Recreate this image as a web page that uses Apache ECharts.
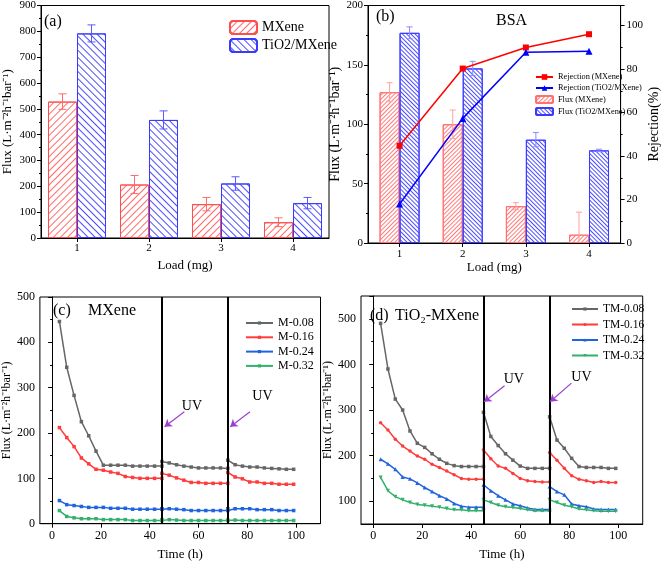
<!DOCTYPE html>
<html><head><meta charset="utf-8">
<script src="https://cdn.jsdelivr.net/npm/echarts@6/dist/echarts.min.js"></script>
<style>html,body{margin:0;padding:0;background:#fff}#c{width:662px;height:562px}</style>
</head><body><div id="c"></div>
<script>
// ---------- data ----------
const loads = ['1', '2', '3', '4'];
const fluxA_MX = [528, 207, 131, 61];
const errA_MX = [30, 35, 26, 17];
const fluxA_TM = [792, 457, 211, 135];
const errA_TM = [33, 35, 26, 22];

const fluxB_MX = [127, 100, 31, 7];
const errB_MX = [8, 12, 3, 19];
const fluxB_TM = [177, 147, 87, 78];
const errB_TM = [5, 6, 6, 1];
const rejB_MX = [44.7, 80.2, 89.9, 96.0];
const rejB_TM = [17.9, 57.3, 87.7, 88.2];

const timeH = [3, 6, 9, 12, 15, 18, 21, 24, 27, 30, 33, 36, 39, 42, 45,
  45, 48, 51, 54, 57, 60, 63, 66, 69, 72,
  72, 75, 78, 81, 84, 87, 90, 93, 96, 99];
const uvTimes = [45, 72];

const M008 = [446, 345, 283, 225, 194, 160, 129, 129, 129, 129, 127, 127, 127, 127, 127,
  137, 134, 130, 127, 125, 123, 123, 123, 123, 122,
  140, 130, 127, 125, 125, 123, 122, 121, 120, 120];
const M016 = [212, 190, 170, 145, 132, 120, 118, 114, 111, 104, 102, 100, 100, 100, 100,
  111, 107, 101, 96, 91, 91, 89, 89, 89, 89,
  113, 103, 99, 92, 92, 89, 89, 87, 87, 87];
const M024 = [51, 42, 40, 38, 36, 36, 36, 34, 34, 34, 32, 32, 32, 32, 32,
  33, 33, 32, 31, 29, 29, 29, 29, 29, 29,
  33, 33, 33, 33, 31, 31, 31, 29, 29, 29];
const M032 = [29, 16, 13, 11, 11, 11, 9, 9, 9, 9, 7, 7, 7, 7, 7,
  9, 9, 8, 7, 7, 7, 7, 7, 7, 7,
  8, 8, 7, 7, 7, 7, 7, 7, 7, 7];

const TM008 = [490, 390, 324, 300, 254, 227, 218, 204, 192, 183, 178, 176, 176, 176, 176,
  295, 242, 222, 204, 190, 177, 172, 172, 172, 172,
  285, 234, 216, 194, 176, 174, 174, 174, 172, 172];
const TM016 = [272, 256, 236, 221, 210, 199, 192, 181, 174, 166, 158, 150, 148, 148, 148,
  213, 193, 177, 172, 161, 150, 145, 143, 142, 142,
  207, 190, 172, 156, 148, 145, 141, 143, 141, 141];
const TM024 = [192, 182, 170, 153, 149, 140, 130, 121, 112, 105, 95, 89, 87, 87, 87,
  136, 123, 112, 103, 94, 90, 85, 82, 82, 82,
  132, 121, 114, 94, 90, 88, 83, 82, 82, 82];
const TM032 = [152, 123, 110, 103, 97, 93, 91, 89, 87, 84, 81, 81, 79, 79, 79,
  103, 97, 91, 88, 86, 84, 81, 79, 79, 79,
  103, 97, 91, 88, 83, 81, 79, 78, 78, 78];

// UV annotation anchor points (data coords): [tailX, tailY, headX, headY, textX, textY]
const uvC = [[54.2, 247, 46.1, 214, 57.3, 258], [81.1, 247, 73.0, 214, 86.2, 282]];
const uvD = [[53.6, 353, 45.3, 318, 57.4, 368], [80.9, 359, 72.2, 318, 85, 371]];

// ---------- helpers ----------
const FONT = 'Liberation Serif';
const pair = (ys) => ys.map((y, i) => [timeH[i], y]);
function hatch(color, rot, gap) {
  return { symbol: 'rect', symbolSize: 1, color: color, dashArrayX: [1, 0], dashArrayY: [1, gap], rotation: rot };
}
function errSeries(x, y, vals, errs, offset, color, cap, z) {
  return {
    type: 'custom', xAxisIndex: x, yAxisIndex: y, z: z, clip: true, silent: true,
    data: vals.map((v, i) => [i, v, errs[i]]),
    renderItem: function (params, api) {
      const i = api.value(0), v = api.value(1), e = api.value(2);
      const top = api.coord([i, v + e]);
      const bot = api.coord([i, v - e]);
      const cx = top[0] + offset;
      const st = { stroke: color, lineWidth: 1 };
      return { type: 'group', children: [
        { type: 'line', shape: { x1: cx, y1: top[1], x2: cx, y2: bot[1] }, style: st },
        { type: 'line', shape: { x1: cx - cap, y1: top[1], x2: cx + cap, y2: top[1] }, style: st },
        { type: 'line', shape: { x1: cx - cap, y1: bot[1], x2: cx + cap, y2: bot[1] }, style: st }
      ] };
    }
  };
}
const axisCommon = {
  axisLine: { show: true, lineStyle: { color: '#000', width: 1 } },
  axisTick: { show: true, length: 4, lineStyle: { color: '#000' } },
  splitLine: { show: false },
  nameLocation: 'middle'
};
function lab(size) { return { color: '#000', fontFamily: FONT, fontSize: size }; }

const cRed = '#ff3b3b', cGray = '#666666', cBlue = '#1f63e0', cGreen = '#33b06c';

function uvMark(list) {
  return {
    silent: true, symbol: ['none', 'arrow'], symbolSize: 7,
    lineStyle: { color: '#9b3fd0', width: 1.2, type: 'solid' },
    label: { show: false },
    data: list.map(u => [{ coord: [u[0], u[1]] }, { coord: [u[2], u[3]] }])
  };
}
function uvText(list) {
  return {
    silent: true, symbol: 'circle', symbolSize: 0,
    label: { show: true, position: 'inside', formatter: 'UV', color: '#000', fontFamily: FONT, fontSize: 14 },
    data: list.map(u => ({ coord: [u[4], u[5]], value: 'UV' }))
  };
}
const vLines = {
  silent: true, symbol: ['none', 'none'], label: { show: false },
  lineStyle: { color: '#000', width: 2, type: 'solid' },
  data: uvTimes.map(t => ({ xAxis: t }))
};

const option = {
  animation: false,
  backgroundColor: '#fff',
  textStyle: { fontFamily: FONT },
  grid: [
    { left: 40, top: 5, width: 289, height: 233, show: true, borderColor: '#000', borderWidth: 1 },
    { left: 368, top: 5, width: 262, height: 238, show: true, borderColor: '#000', borderWidth: 1 },
    { left: 38, top: 297, width: 282.5, height: 226.7, show: true, borderColor: '#000', borderWidth: 1 },
    { left: 361, top: 296, width: 281.7, height: 228, show: true, borderColor: '#000', borderWidth: 1 }
  ],
  xAxis: [
    Object.assign({}, axisCommon, { gridIndex: 0, type: 'category', data: loads,
      axisTick: { show: true, alignWithLabel: true, length: 4, lineStyle: { color: '#000' } },
      axisLabel: Object.assign(lab(11), { margin: 5 }),
      name: 'Load (mg)', nameGap: 21, nameTextStyle: lab(13) }),
    Object.assign({}, axisCommon, { gridIndex: 1, type: 'category', data: loads,
      axisTick: { show: true, alignWithLabel: true, length: 4, lineStyle: { color: '#000' } },
      axisLabel: Object.assign(lab(11), { margin: 6 }),
      name: 'Load (mg)', nameGap: 18, nameTextStyle: lab(13) }),
    Object.assign({}, axisCommon, { gridIndex: 2, type: 'value', min: -5, max: 110,
      axisLabel: Object.assign(lab(12), { margin: 6, showMinLabel: false, showMaxLabel: false }),
      name: 'Time (h)', nameGap: 24, nameTextStyle: lab(13) }),
    Object.assign({}, axisCommon, { gridIndex: 3, type: 'value', min: -5, max: 110,
      axisLabel: Object.assign(lab(12), { margin: 6, showMinLabel: false, showMaxLabel: false }),
      name: 'Time (h)', nameGap: 24, nameTextStyle: lab(13) })
  ],
  yAxis: [
    Object.assign({}, axisCommon, { gridIndex: 0, type: 'value', min: 0, max: 900, interval: 100,
      minorTick: { show: true, splitNumber: 2, length: 2, lineStyle: { color: '#000' } },
      axisLabel: Object.assign(lab(11), { margin: 5 }),
      name: 'Flux (L·m⁻²h⁻¹bar⁻¹)', nameGap: 27, nameTextStyle: lab(13) }),
    Object.assign({}, axisCommon, { gridIndex: 1, type: 'value', min: 0, max: 200, interval: 50,
      minorTick: { show: true, splitNumber: 2, length: 2, lineStyle: { color: '#000' } },
      axisLabel: Object.assign(lab(11), { margin: 5 }),
      name: 'Flux (L·m⁻²h⁻¹bar⁻¹)', nameGap: 24, nameTextStyle: lab(14) }),
    Object.assign({}, axisCommon, { gridIndex: 1, type: 'value', position: 'right', min: 0, max: 109.2, interval: 20,
      minorTick: { show: true, splitNumber: 2, length: 2, lineStyle: { color: '#000' } },
      axisLabel: Object.assign(lab(11), { margin: 6 , showMaxLabel: false }),
      name: 'Rejection(%)', nameGap: 25, nameTextStyle: lab(14) }),
    Object.assign({}, axisCommon, { gridIndex: 2, type: 'value', min: 0, max: 500,
      minorTick: { show: true, splitNumber: 2, length: 2, lineStyle: { color: '#000' } },
      axisLabel: Object.assign(lab(12), { margin: 5 }),
      name: 'Flux (L·m⁻²h⁻¹bar⁻¹)', nameGap: 25, nameTextStyle: lab(12) }),
    Object.assign({}, axisCommon, { gridIndex: 3, type: 'value', min: 50, max: 550,
      minorTick: { show: true, splitNumber: 2, length: 2, lineStyle: { color: '#000' } },
      axisLabel: Object.assign(lab(12), { margin: 5, showMinLabel: false, showMaxLabel: false }),
      name: 'Flux (L·m⁻²h⁻¹bar⁻¹)', nameGap: 25, nameTextStyle: lab(12) })
  ],
  legend: [
    { left: 224, top: 15, orient: 'vertical', itemWidth: 27, itemHeight: 13, itemGap: 3,
      textStyle: lab(14), data: ['MXene', 'TiO2/MXene'] },
    { left: 530, top: 68, orient: 'vertical', itemWidth: 17, itemHeight: 7, itemGap: 3,
      textStyle: lab(8.3), data: ['Rejection (MXene)', 'Rejection (TiO2/MXene)', 'Flux (MXene)', 'Flux (TiO2/MXene)'] },
    { left: 240, top: 312, orient: 'vertical', itemWidth: 27, itemHeight: 4, itemGap: 2.3,
      textStyle: lab(12), data: ['M-0.08', 'M-0.16', 'M-0.24', 'M-0.32'] },
    { left: 566, top: 298, orient: 'vertical', itemWidth: 26, itemHeight: 4, itemGap: 3.5,
      textStyle: lab(11.5), data: ['TM-0.08', 'TM-0.16', 'TM-0.24', 'TM-0.32'] }
  ],
  graphic: [
    { type: 'text', left: 44, top: 14, style: { text: '(a)', font: '16px "Liberation Serif"', fill: '#000' } },
    { type: 'text', left: 376, top: 9, style: { text: '(b)', font: '16px "Liberation Serif"', fill: '#000' } },
    { type: 'text', left: 496, top: 13, style: { text: 'BSA', font: '16px "Liberation Serif"', fill: '#000' } },
    { type: 'text', left: 53, top: 303, style: { text: '(c)', font: '16px "Liberation Serif"', fill: '#000' } },
    { type: 'text', left: 88, top: 303, style: { text: 'MXene', font: '16px "Liberation Serif"', fill: '#000' } },
    { type: 'text', left: 370, top: 308, style: { text: '(d)', font: '16px "Liberation Serif"', fill: '#000' } },
    { type: 'text', left: 395, top: 308, style: { text: 'TiO₂-MXene', font: '16px "Liberation Serif"', fill: '#000' } }
  ],
  series: [
    // ---- (a) ----
    { name: 'MXene', type: 'bar', xAxisIndex: 0, yAxisIndex: 0, data: fluxA_MX, barWidth: 29, barGap: '0%',
      itemStyle: { color: '#ffffff', borderColor: '#ff4d4d', borderWidth: 1, decal: hatch('#ff6a6a', -Math.PI / 4, 3.3) } },
    { name: 'TiO2/MXene', type: 'bar', xAxisIndex: 0, yAxisIndex: 0, data: fluxA_TM, barWidth: 29, barGap: '0%',
      itemStyle: { color: '#ffffff', borderColor: '#3a3aff', borderWidth: 1, decal: hatch('#4d4dff', Math.PI / 4, 3.3) } },
    errSeries(0, 0, fluxA_MX, errA_MX, -14.5, '#ff6a6a', 4, 5),
    errSeries(0, 0, fluxA_TM, errA_TM, 14.5, '#5a5aff', 4, 5),
    // ---- (b) ----
    { name: 'Flux (MXene)', type: 'bar', xAxisIndex: 1, yAxisIndex: 1, data: fluxB_MX, barWidth: 20, barGap: '0%',
      itemStyle: { color: '#ffffff', borderColor: '#ff7070', borderWidth: 1, decal: hatch('#ff7a7a', -Math.PI / 4, 2) } },
    { name: 'Flux (TiO2/MXene)', type: 'bar', xAxisIndex: 1, yAxisIndex: 1, data: fluxB_TM, barWidth: 20, barGap: '0%',
      itemStyle: { color: '#ffffff', borderColor: '#3a3aff', borderWidth: 1, decal: hatch('#4d4dff', Math.PI / 4, 2) } },
    errSeries(1, 1, fluxB_MX, errB_MX, -10, '#ffa0a0', 3, 5),
    errSeries(1, 1, fluxB_TM, errB_TM, 10, '#8a8aff', 3, 5),
    { name: 'Rejection (MXene)', type: 'line', xAxisIndex: 1, yAxisIndex: 2, data: rejB_MX, z: 10,
      symbol: 'rect', symbolSize: 6, itemStyle: { color: '#ff0000' }, lineStyle: { color: '#ff0000', width: 1.5 } },
    { name: 'Rejection (TiO2/MXene)', type: 'line', xAxisIndex: 1, yAxisIndex: 2, data: rejB_TM, z: 10,
      symbol: 'triangle', symbolSize: 7, itemStyle: { color: '#0000ff' }, lineStyle: { color: '#0000ff', width: 1.5 } },
    // ---- (c) ----
    { name: 'M-0.08', type: 'line', xAxisIndex: 2, yAxisIndex: 3, data: pair(M008), symbol: 'rect', symbolSize: 3.5,
      itemStyle: { color: cGray }, lineStyle: { color: cGray, width: 1.5 }, markLine: vLines },
    { name: 'M-0.16', type: 'line', xAxisIndex: 2, yAxisIndex: 3, data: pair(M016), symbol: 'rect', symbolSize: 3.5,
      itemStyle: { color: cRed }, lineStyle: { color: cRed, width: 1.5 } },
    { name: 'M-0.24', type: 'line', xAxisIndex: 2, yAxisIndex: 3, data: pair(M024), symbol: 'rect', symbolSize: 3.5,
      itemStyle: { color: cBlue }, lineStyle: { color: cBlue, width: 1.5 } },
    { name: 'M-0.32', type: 'line', xAxisIndex: 2, yAxisIndex: 3, data: pair(M032), symbol: 'rect', symbolSize: 3.5,
      itemStyle: { color: cGreen }, lineStyle: { color: cGreen, width: 1.5 } },
    { name: 'uvC', type: 'line', xAxisIndex: 2, yAxisIndex: 3, data: [], markLine: uvMark(uvC), markPoint: uvText(uvC) },
    // ---- (d) ----
    { name: 'TM-0.08', type: 'line', xAxisIndex: 3, yAxisIndex: 4, data: pair(TM008), symbol: 'rect', symbolSize: 3.5,
      itemStyle: { color: cGray }, lineStyle: { color: cGray, width: 1.5 }, markLine: vLines },
    { name: 'TM-0.16', type: 'line', xAxisIndex: 3, yAxisIndex: 4, data: pair(TM016), symbol: 'circle', symbolSize: 3.5,
      itemStyle: { color: cRed }, lineStyle: { color: cRed, width: 1.5 } },
    { name: 'TM-0.24', type: 'line', xAxisIndex: 3, yAxisIndex: 4, data: pair(TM024), symbol: 'triangle', symbolSize: 4,
      itemStyle: { color: cBlue }, lineStyle: { color: cBlue, width: 1.5 } },
    { name: 'TM-0.32', type: 'line', xAxisIndex: 3, yAxisIndex: 4, data: pair(TM032), symbol: 'triangle', symbolRotate: 180, symbolSize: 4,
      itemStyle: { color: cGreen }, lineStyle: { color: cGreen, width: 1.5 } },
    { name: 'uvD', type: 'line', xAxisIndex: 3, yAxisIndex: 4, data: [], markLine: uvMark(uvD), markPoint: uvText(uvD) }
  ]
};
const chart = echarts.init(document.getElementById('c'), null, { renderer: 'canvas' });
chart.setOption(option);
</script>
</body></html>
